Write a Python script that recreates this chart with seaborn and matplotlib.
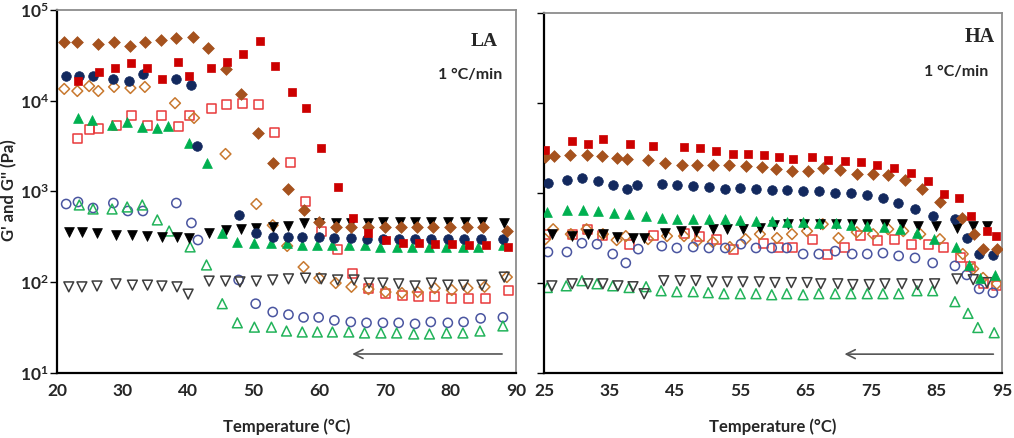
import matplotlib
matplotlib.use("Agg")
import matplotlib.pyplot as plt
import seaborn as sns
from matplotlib.ticker import NullLocator

# ---------------- LA panel (20-90 °C) ----------------
la_sq_f_T = [23.2, 26.4, 28.9, 31.3, 33.8, 36.0, 38.5, 40.2, 43.5, 46.0, 48.4, 50.9, 53.2, 55.8, 58.0, 60.3, 62.8, 65.1, 67.5, 70.1, 72.7, 75.2, 77.6, 80.2, 82.8, 85.4, 88.8]
la_sq_f_G = [16500, 20800, 23000, 26000, 23000, 17400, 26700, 18700, 23000, 26700, 32700, 45500, 24200, 12500, 8300, 3000, 1120, 510, 350, 292, 270, 270, 263, 263, 257, 257, 245]
la_sq_o_T = [23.2, 24.9, 26.4, 29.0, 31.3, 33.8, 36.0, 38.5, 40.2, 43.5, 45.8, 48.3, 50.7, 53.2, 55.6, 57.9, 60.3, 62.8, 65.1, 67.5, 70.1, 72.7, 75.2, 77.6, 80.2, 82.8, 85.4, 88.8]
la_sq_o_G = [3790, 4760, 4890, 5270, 6790, 5270, 6790, 5140, 6790, 8110, 9200, 9440, 9200, 4420, 2110, 785, 358, 232, 126, 86, 76, 72, 69, 69, 67, 67, 67, 82]
la_di_f_T = [21.1, 23.1, 26.3, 28.7, 31.2, 33.4, 35.9, 38.2, 40.8, 43.1, 45.7, 48.1, 50.6, 52.9, 55.3, 57.6, 60.0, 62.5, 64.9, 67.4, 70.0, 72.4, 74.9, 77.3, 79.9, 82.5, 84.9, 88.6]
la_di_f_G = [44400, 44400, 42300, 44400, 40200, 44400, 46700, 49100, 50400, 38100, 22100, 11900, 4420, 2050, 1070, 630, 461, 406, 406, 406, 406, 406, 406, 406, 406, 406, 406, 367]
la_di_o_T = [21.1, 23.1, 24.9, 26.3, 28.7, 31.2, 33.4, 38.0, 40.9, 45.7, 50.4, 52.9, 55.1, 57.6, 60.0, 62.5, 64.9, 67.5, 70.1, 72.6, 75.0, 77.6, 80.2, 82.6, 85.2, 88.6]
la_di_o_G = [13500, 12800, 14500, 12800, 14200, 13800, 14200, 9400, 6460, 2590, 728, 425, 251, 147, 111, 98, 89, 84, 78, 76, 78, 86, 82, 86, 89, 114]
la_ci_f_T = [21.4, 23.4, 25.5, 28.6, 31.0, 33.1, 38.2, 40.5, 41.4, 47.7, 50.3, 52.9, 55.3, 57.4, 59.9, 62.3, 64.8, 67.2, 69.7, 72.1, 74.6, 77.1, 79.6, 82.0, 84.6, 88.0]
la_ci_f_G = [18700, 18700, 18700, 17400, 16500, 19700, 17400, 14900, 3160, 550, 350, 316, 316, 316, 316, 308, 308, 300, 300, 300, 300, 300, 300, 300, 300, 300]
la_ci_o_T = [21.4, 23.2, 25.5, 28.6, 30.8, 33.1, 38.2, 40.5, 41.5, 47.7, 50.3, 52.9, 55.3, 57.6, 59.9, 62.3, 64.8, 67.2, 69.7, 72.1, 74.6, 77.0, 79.6, 82.0, 84.6, 88.0]
la_ci_o_G = [728, 766, 658, 746, 610, 610, 746, 450, 292, 106, 58, 47, 44, 41, 41, 38, 36.5, 35.7, 35.7, 35.7, 34.8, 36.5, 35.7, 36.5, 40, 41]
la_tu_f_T = [23.2, 25.4, 28.4, 30.7, 33.0, 35.3, 37.0, 40.2, 42.8, 45.2, 47.5, 50.1, 52.7, 55.1, 57.4, 59.7, 62.0, 64.5, 66.9, 69.2, 71.8, 74.2, 76.8, 79.3, 81.9, 84.2, 88.0]
la_tu_f_G = [6460, 6140, 5410, 5840, 5130, 5000, 5260, 3420, 2060, 350, 276, 270, 270, 270, 257, 257, 257, 257, 257, 245, 245, 245, 245, 245, 245, 245, 257]
la_tu_o_T = [23.4, 25.5, 28.4, 30.7, 33.0, 35.3, 37.1, 40.3, 42.8, 45.2, 47.5, 50.1, 52.7, 55.0, 57.4, 59.7, 62.0, 64.5, 66.9, 69.4, 71.8, 74.4, 76.8, 79.4, 81.9, 84.5, 88.0]
la_tu_o_G = [710, 641, 641, 675, 710, 486, 367, 245, 155, 58, 35.7, 32, 32, 29, 28.3, 28.3, 28.3, 28.3, 27.6, 27.6, 27.6, 26.9, 26.9, 27.6, 27.6, 29, 33]
la_td_f_T = [21.8, 23.8, 26.1, 29.0, 31.5, 33.8, 36.0, 38.3, 40.2, 43.2, 45.7, 48.1, 50.4, 52.9, 55.3, 57.6, 60.0, 62.5, 64.9, 67.4, 69.7, 72.3, 74.6, 77.1, 79.6, 82.2, 84.8, 88.2]
la_td_f_G = [358, 358, 349, 332, 332, 324, 316, 316, 308, 349, 377, 386, 396, 406, 417, 450, 450, 450, 450, 450, 461, 461, 461, 461, 461, 461, 461, 450]
la_td_o_T = [21.8, 23.8, 26.1, 29.0, 31.5, 33.8, 36.0, 38.3, 40.0, 43.2, 45.7, 47.9, 50.4, 52.9, 55.3, 57.9, 60.3, 62.8, 65.3, 67.6, 69.7, 72.1, 74.6, 77.1, 79.6, 82.0, 84.8, 88.2]
la_td_o_G = [89, 89, 91, 96, 93, 93, 91, 89, 74, 103, 103, 101, 103, 106, 109, 111, 109, 106, 106, 98, 98, 96, 91, 98, 93, 93, 93, 114]

# ---------------- HA panel (25-95 °C) ----------------
ha_sq_f_T = [25.2, 29.3, 31.7, 34.0, 38.1, 41.7, 46.4, 48.8, 51.3, 53.9, 56.2, 58.6, 60.9, 63.0, 66.0, 68.4, 71.0, 73.4, 75.9, 78.5, 81.1, 83.7, 86.1, 88.4, 90.2, 92.7, 94.1]
ha_sq_f_G = [3010, 3790, 3510, 3980, 3510, 3330, 3250, 3170, 2940, 2720, 2720, 2650, 2520, 2400, 2520, 2340, 2280, 2220, 2060, 1910, 1680, 1370, 987, 870, 550, 377, 332]
ha_sq_o_T = [25.2, 29.3, 31.7, 34.0, 38.1, 41.7, 46.4, 48.8, 51.3, 53.9, 58.6, 60.9, 63.0, 66.0, 68.4, 71.0, 73.4, 75.9, 78.5, 81.2, 83.7, 86.1, 88.6, 90.2, 92.2, 94.2]
ha_sq_o_G = [349, 349, 396, 340, 271, 340, 358, 332, 307, 233, 278, 245, 251, 307, 210, 251, 340, 300, 307, 271, 271, 251, 190, 151, 98, 93]
ha_di_f_T = [25.2, 26.5, 29.0, 31.6, 33.9, 36.2, 37.7, 40.9, 43.5, 46.1, 48.4, 50.8, 53.3, 55.9, 58.3, 60.5, 62.9, 65.3, 67.6, 70.2, 72.8, 75.3, 77.6, 80.2, 82.8, 85.5, 88.9, 90.7, 92.1, 94.2]
ha_di_f_G = [2520, 2590, 2650, 2650, 2590, 2460, 2400, 2340, 2170, 2060, 2060, 2060, 2060, 2010, 1960, 1860, 1770, 1770, 1910, 1820, 1640, 1640, 1600, 1410, 1120, 785, 524, 349, 239, 239]
ha_di_o_T = [25.2, 26.4, 29.1, 31.5, 34.0, 36.1, 37.5, 40.9, 43.8, 46.4, 48.4, 50.8, 53.4, 55.8, 58.0, 60.6, 62.9, 65.2, 67.6, 70.0, 72.8, 75.3, 77.6, 79.9, 82.5, 85.5, 89.0, 90.6, 92.1, 94.2]
ha_di_o_G = [307, 396, 349, 396, 349, 300, 332, 307, 332, 332, 292, 285, 251, 307, 349, 316, 349, 377, 450, 316, 367, 349, 396, 377, 349, 307, 210, 144, 114, 98]
ha_ci_f_T = [25.6, 28.5, 30.8, 33.3, 35.5, 37.7, 39.2, 43.0, 45.3, 47.8, 50.2, 52.7, 55.0, 57.4, 59.8, 62.1, 64.6, 67.0, 69.5, 71.9, 74.4, 76.8, 79.1, 81.7, 84.4, 87.8, 89.6, 91.5, 93.6]
ha_ci_f_G = [1306, 1410, 1480, 1370, 1240, 1120, 1240, 1270, 1240, 1210, 1180, 1120, 1150, 1120, 1090, 1070, 1040, 1040, 1010, 990, 960, 890, 765, 658, 550, 510, 316, 210, 204]
ha_ci_o_T = [25.6, 28.5, 30.8, 33.1, 35.5, 37.5, 39.4, 43.0, 45.3, 47.8, 50.2, 52.7, 55.1, 57.4, 59.8, 62.1, 64.6, 67.0, 69.5, 72.1, 74.4, 76.8, 79.2, 81.7, 84.4, 87.8, 89.6, 91.5, 93.6]
ha_ci_o_G = [221, 221, 277, 270, 210, 167, 238, 257, 245, 251, 245, 245, 270, 245, 245, 245, 210, 210, 226, 210, 210, 215, 200, 190, 167, 155, 123, 86, 78]
ha_tu_f_T = [25.5, 28.5, 31.0, 33.3, 35.7, 38.0, 40.6, 43.0, 45.3, 47.8, 50.2, 52.7, 55.0, 57.4, 59.8, 62.1, 64.6, 67.0, 69.6, 71.9, 74.4, 77.0, 79.4, 82.0, 84.6, 87.9, 89.9, 91.6, 93.9]
ha_tu_f_G = [610, 641, 641, 625, 594, 580, 551, 524, 510, 510, 510, 510, 498, 486, 486, 473, 473, 461, 461, 439, 428, 417, 396, 358, 308, 251, 159, 114, 123]
ha_tu_o_T = [25.5, 28.4, 30.8, 33.1, 35.5, 38.0, 40.6, 42.9, 45.3, 47.8, 50.1, 52.5, 55.0, 57.4, 59.8, 62.1, 64.6, 67.0, 69.5, 71.9, 74.4, 76.8, 79.2, 82.0, 84.4, 87.8, 89.8, 91.3, 93.8]
ha_tu_o_G = [89, 93, 106, 98, 93, 89, 91, 82, 80, 80, 78, 76, 76, 76, 74, 76, 74, 76, 76, 76, 76, 76, 76, 82, 82, 62, 46, 32, 28]
ha_td_f_T = [26.2, 29.3, 31.7, 34.0, 36.2, 38.6, 40.3, 43.5, 45.9, 48.2, 50.8, 53.0, 55.4, 58.0, 60.1, 62.3, 64.7, 67.2, 69.6, 72.1, 74.4, 77.1, 79.7, 82.1, 84.9, 88.1, 90.6, 92.7]
ha_td_f_G = [349, 332, 349, 349, 324, 316, 316, 358, 377, 377, 396, 396, 396, 406, 439, 450, 450, 450, 450, 450, 450, 450, 450, 428, 428, 406, 428, 428]
ha_td_o_T = [26.2, 29.3, 31.7, 34.0, 36.3, 38.6, 40.3, 43.3, 45.8, 48.2, 50.7, 53.0, 55.4, 57.9, 60.3, 62.8, 65.2, 67.3, 69.9, 72.2, 74.7, 77.1, 79.7, 82.1, 84.7, 88.1, 90.6, 92.7]
ha_td_o_G = [93, 98, 98, 98, 93, 91, 76, 106, 106, 106, 103, 103, 103, 103, 101, 101, 101, 98, 98, 96, 96, 98, 98, 96, 98, 111, 109, 101]

y_ticks = [10, 100, 1000, 10000, 100000]
y_tick_labels = [r"$\mathbf{10^{1}}$", r"$\mathbf{10^{2}}$", r"$\mathbf{10^{3}}$", r"$\mathbf{10^{4}}$", r"$\mathbf{10^{5}}$"]
la_x_ticks = [20, 30, 40, 50, 60, 70, 80, 90]
ha_x_ticks = [25, 35, 45, 55, 65, 75, 85, 95]

# marker, colour, filled, size  (open ones first so filled sit on top)
styles = [
    ("sq_o", "s", "#E8393B", False, 42),
    ("di_o", "D", "#C8782E", False, 30),
    ("ci_o", "o", "#4A55A0", False, 44),
    ("tu_o", "^", "#22B35A", False, 50),
    ("td_o", "v", "#3c3c3c", False, 50),
    ("td_f", "v", "#000000", True, 50),
    ("tu_f", "^", "#00B050", True, 50),
    ("ci_f", "o", "#13295E", True, 48),
    ("di_f", "D", "#A5521E", True, 36),
    ("sq_f", "s", "#CC0000", True, 36),
]

sns.set_theme(style="white")
plt.rcParams["font.family"] = ["Lato", "DejaVu Sans"]
plt.rcParams["mathtext.fontset"] = "custom"
plt.rcParams["mathtext.bf"] = "Lato:bold"
plt.rcParams["mathtext.rm"] = "Lato"

fig = plt.figure(figsize=(10.14, 4.38), dpi=100)
ax1 = fig.add_axes([0.0562, 0.1484, 0.4527, 0.8288])
ax2 = fig.add_axes([0.5365, 0.1484, 0.4517, 0.8219])

data = globals()
for ax, pre in [(ax1, "la"), (ax2, "ha")]:
    for key, mk, col, filled, size in styles:
        T = data[f"{pre}_{key}_T"]
        G = data[f"{pre}_{key}_G"]
        if filled:
            sns.scatterplot(x=T, y=G, ax=ax, marker=mk, color=col, edgecolor=col,
                            linewidth=0.5, s=size, zorder=3)
        else:
            sns.scatterplot(x=T, y=G, ax=ax, marker=mk, color=col, facecolor="none",
                            edgecolor=col, linewidth=1.1, s=size, zorder=2)

for ax, xt in [(ax1, la_x_ticks), (ax2, ha_x_ticks)]:
    ax.set_yscale("log")
    ax.set_ylim(10, 100000)
    ax.set_xlim(xt[0], xt[-1])
    ax.set_yticks(y_ticks)
    ax.yaxis.set_minor_locator(NullLocator())
    ax.set_xticks(xt)
    ax.set_xticklabels([str(t) for t in xt], fontweight="bold", fontsize=12.5)
    ax.tick_params(axis="x", length=0, pad=7)
    ax.tick_params(axis="y", direction="out", length=5, width=1, color="black", left=True, pad=1)
    for s in ["left", "bottom"]:
        ax.spines[s].set_color("black")
        ax.spines[s].set_linewidth(1.6)
    for s in ["top", "right"]:
        ax.spines[s].set_color("#8c8c8c")
        ax.spines[s].set_linewidth(1.3)
    ax.set_xlabel("Temperature (°C)", fontweight="bold", fontsize=12, labelpad=14)
    ax.set_ylabel("")

ax1.set_yticklabels(y_tick_labels, fontsize=12.5)
ax2.set_yticklabels([])

ax1.text(0.961, 0.912, "LA", transform=ax1.transAxes, ha="right", va="center",
         fontfamily="Liberation Serif", fontweight="bold", fontsize=14)
ax1.text(0.969, 0.821, "1 °C/min", transform=ax1.transAxes, ha="right", va="center",
         fontweight="bold", fontsize=11.5)
ax2.text(0.985, 0.933, "HA", transform=ax2.transAxes, ha="right", va="center",
         fontfamily="Liberation Serif", fontweight="bold", fontsize=14.5)
ax2.text(0.969, 0.836, "1 °C/min", transform=ax2.transAxes, ha="right", va="center",
         fontweight="bold", fontsize=11.5)

# cooling direction arrows
ax1.annotate("", xy=(64.6, 16.2), xytext=(88.3, 16.2),
             arrowprops=dict(arrowstyle="->", color="#555555", lw=1.2, mutation_scale=16))
ax2.annotate("", xy=(70.5, 16.2), xytext=(94.1, 16.2),
             arrowprops=dict(arrowstyle="->", color="#555555", lw=1.2, mutation_scale=16))

fig.text(0.0085, 0.565, "G' and G'' (Pa)", rotation=90, ha="center", va="center",
         fontweight="bold", fontsize=12)

fig.savefig("out.png", dpi=100)
